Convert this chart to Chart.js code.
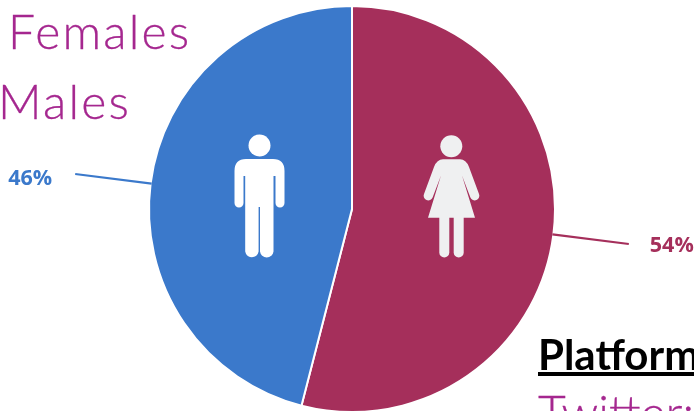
<!DOCTYPE html>
<html>
<head>
<meta charset="utf-8">
<title>Gender split</title>
<script src="https://cdn.jsdelivr.net/npm/chart.js@4"></script>
<style>
    html, body { margin: 0; padding: 0; background: #fff; }
    #wrap { position: relative; width: 694px; height: 411px; overflow: hidden; }
    #genderChart { position: absolute; left: 0; top: 0; }
    .note { position: absolute; white-space: nowrap; font-family: Lato, sans-serif; font-weight: 300; font-size: 48px; line-height: 54px; letter-spacing: 2.2px; color: #a5278f; -webkit-text-stroke: 0.3px #a5278f; }
    .head { position: absolute; left: 538px; top: 329px; white-space: nowrap; font-family: Lato, sans-serif; font-weight: 700; font-size: 42px; line-height: 50px; color: #000; border-bottom: 4px solid #000; width: 170px; height: 43px; }
    svg.icon { position: absolute; left: 0; top: 0; }
</style>
</head>
<body>
<div id="wrap">
    <!-- canvas runs past the bottom edge because the pie is slightly cropped there -->
    <canvas id="genderChart" width="694" height="421"></canvas>
    <svg class="icon" width="694" height="411" viewBox="0 0 694 411">
        <!-- male figure -->
        <g fill="#ffffff" stroke="none">
            <circle cx="259.5" cy="145.5" r="11"/>
            <path d="M246 159 H273 Q284.5 159 284.5 171 V203 A4.5 4.5 0 0 1 275.5 203 V176 H273.5 V251.5 A6.8 6.8 0 0 1 260 251.5 V207 H258.6 V251.5 A6.8 6.8 0 0 1 245.2 251.5 V176 H243.5 V203 A4.5 4.5 0 0 1 234.5 203 V171 Q234.5 159 246 159 Z"/>
        </g>
        <!-- female figure -->
        <g fill="#eff0f1" stroke="none">
            <circle cx="451.3" cy="146.3" r="11"/>
            <path d="M443 159.3 H460 Q466 159.3 469 167 L479 194 A4.6 4.6 0 0 1 470.4 197.6 L462 175.5 L475 217.7 H428 L441 175.5 L432.6 197.6 A4.6 4.6 0 0 1 424 194 L434 167 Q437 159.3 443 159.3 Z"/>
            <path d="M439.3 216 H449.3 V252.5 A5 5 0 0 1 439.3 252.5 Z"/>
            <path d="M453.7 216 H463.7 V252.5 A5 5 0 0 1 453.7 252.5 Z"/>
        </g>
    </svg>
    <div class="note" style="left: 8px; top: 4px;">Females</div>
    <div class="note" style="left: -2px; top: 74px;">Males</div>
    <div class="head">Platform</div>
    <div class="note" style="left: 538px; top: 385px; letter-spacing: 0;">Twitter: 1</div>
</div>
<script>
var categories = ['Females', 'Males'];
var shares = [54, 46];
var sliceColors = ['#a52f5b', '#3b79cb'];

// Leader line and percentage outside each slice
var sliceLabels = {
    id: 'sliceLabels',
    afterDatasetsDraw: function (chart) {
        var ctx = chart.ctx;
        chart.getDatasetMeta(0).data.forEach(function (arc, i) {
            var p = arc.getProps(['x', 'y', 'startAngle', 'endAngle', 'outerRadius'], true);
            var mid = (p.startAngle + p.endAngle) / 2;
            var c = Math.cos(mid), s = Math.sin(mid);
            var r0 = p.outerRadius - 1, r1 = p.outerRadius + 76;
            ctx.save();
            ctx.strokeStyle = sliceColors[i];
            ctx.lineWidth = 2.2;
            ctx.beginPath();
            ctx.moveTo(p.x + c * r0, p.y + s * r0);
            ctx.lineTo(p.x + c * r1, p.y + s * r1);
            ctx.stroke();
            ctx.fillStyle = sliceColors[i];
            ctx.font = '700 21.5px "Open Sans", sans-serif';
            ctx.textAlign = 'center';
            ctx.textBaseline = 'middle';
            ctx.fillText(shares[i] + '%', p.x + c * r1 + (c > 0 ? 43 : -45), p.y + s * r1 + (c > 0 ? 2 : 4.5));
            ctx.restore();
        });
    }
};

new Chart(document.getElementById('genderChart').getContext('2d'), {
    type: 'pie',
    data: {
        labels: categories,
        datasets: [{
            data: shares,
            backgroundColor: sliceColors,
            borderColor: '#ffffff',
            borderWidth: 2
        }]
    },
    options: {
        responsive: false,
        animation: false,
        layout: { padding: { left: 148, right: 138, top: 5, bottom: 8 } },
        plugins: { legend: { display: false }, tooltip: { enabled: false } }
    },
    plugins: [sliceLabels]
});
</script>
</body>
</html>
